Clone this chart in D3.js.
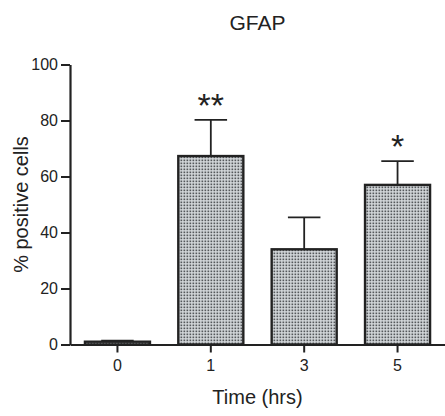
<!DOCTYPE html>
<html>
<head>
<meta charset="utf-8">
<script src="https://cdn.jsdelivr.net/npm/d3@7"></script>
<style>
  html, body { margin: 0; padding: 0; background: #fff; }
  svg { display: block; font-family: Arial, "Liberation Sans", sans-serif; }
</style>
</head>
<body>
<svg id="chart" width="445" height="416"></svg>
<script>
const categories = ["0", "1", "3", "5"];
const means = [1, 67.3, 34.0, 57.0];
const sems = [0.4, 12.9, 11.4, 8.5];
const stars = ["", "**", "", "*"];
const yTicks = [0, 20, 40, 60, 80, 100];
const titleText = "GFAP";
const xLabel = "Time (hrs)";
const yLabel = "% positive cells";

(function () {
const svg = d3.select("#chart");
const mLeft = 70, mRight = 445, mTop = 64.5, mBottom = 344.5;
const ink = "#222";

const x = d3.scaleBand().domain(categories).range([mLeft, mRight])
  .paddingInner(0.3035).paddingOuter(0.16);
const y = d3.scaleLinear().domain([0, 100]).range([mBottom, mTop]);

const defs = svg.append("defs");
const pat = defs.append("pattern").attr("id", "dots")
  .attr("patternUnits", "userSpaceOnUse").attr("width", 3).attr("height", 3);
pat.append("rect").attr("width", 3).attr("height", 3).attr("fill", "#d6dadd");
pat.append("rect").attr("x", 0.5).attr("y", 0.5).attr("width", 1.7).attr("height", 1.7).attr("fill", "#55585b");

const data = categories.map((c, i) => ({c, m: means[i], s: sems[i], star: stars[i]}));

// error bars (upper only)
const eb = svg.append("g").attr("stroke", ink).attr("stroke-width", 1.8);
data.forEach(d => {
  const cx = x(d.c) + x.bandwidth() / 2;
  eb.append("line").attr("x1", cx).attr("x2", cx).attr("y1", y(d.m)).attr("y2", y(d.m + d.s));
  eb.append("line").attr("x1", cx - x.bandwidth() * 0.25).attr("x2", cx + x.bandwidth() * 0.25)
    .attr("y1", y(d.m + d.s)).attr("y2", y(d.m + d.s));
});

// bars
svg.append("g").selectAll("rect").data(data).join("rect")
  .attr("x", d => x(d.c))
  .attr("y", d => y(d.m))
  .attr("width", x.bandwidth())
  .attr("height", d => y(0) - y(d.m))
  .attr("fill", "url(#dots)")
  .attr("stroke", ink).attr("stroke-width", 2.4);

// stars
svg.append("g").selectAll("text").data(data.filter(d => d.star)).join("text")
  .attr("x", d => x(d.c) + x.bandwidth() / 2)
  .attr("y", d => y(d.m + d.s) - 3)
  .attr("text-anchor", "middle")
  .attr("font-size", 34)
  .attr("fill", ink)
  .text(d => d.star);

// axes
const yAxis = svg.append("g").attr("transform", `translate(${mLeft},0)`)
  .call(d3.axisLeft(y).tickValues(yTicks).tickSize(9).tickSizeOuter(0).tickPadding(3));
const xAxis = svg.append("g").attr("transform", `translate(0,${mBottom})`)
  .call(d3.axisBottom(x).tickSize(8).tickSizeOuter(0).tickPadding(7));
[yAxis, xAxis].forEach(a => {
  a.select(".domain").attr("stroke", ink).attr("stroke-width", 2.2);
  a.selectAll(".tick line").attr("stroke", ink).attr("stroke-width", 2);
  a.selectAll(".tick text").attr("font-size", 16).attr("fill", ink)
    .attr("font-family", "Arial, 'Liberation Sans', sans-serif");
});

// title and labels
svg.append("text").attr("x", (mLeft + mRight) / 2).attr("y", 30)
  .attr("text-anchor", "middle").attr("font-size", 21).attr("fill", ink).text(titleText);
svg.append("text").attr("x", (mLeft + mRight) / 2).attr("y", 404)
  .attr("text-anchor", "middle").attr("font-size", 20).attr("fill", ink).text(xLabel);
svg.append("text").attr("transform", `translate(28,${(mTop + mBottom) / 2}) rotate(-90)`)
  .attr("text-anchor", "middle").attr("font-size", 20).attr("fill", ink).text(yLabel);
})();
</script>
</body>
</html>
